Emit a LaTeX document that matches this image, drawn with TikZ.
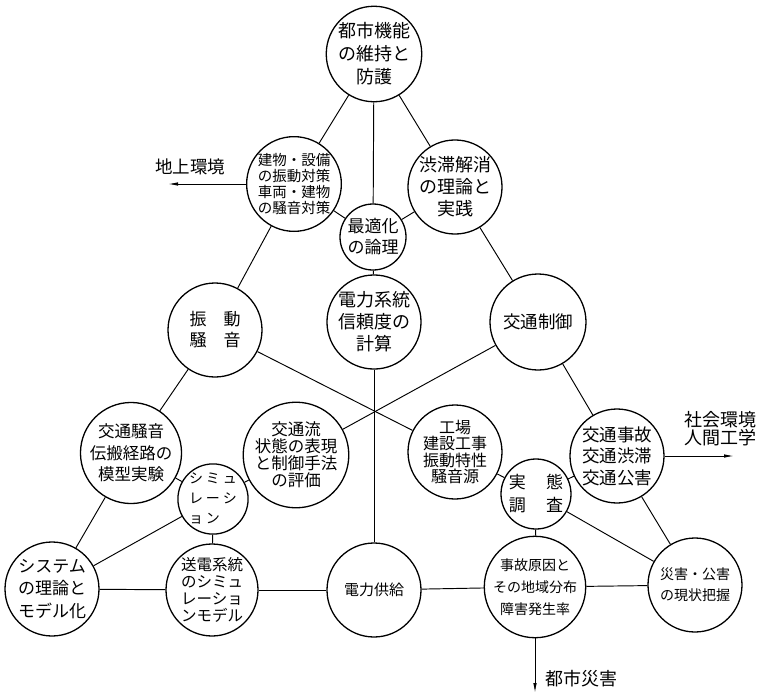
\documentclass[tikz,border=0pt]{standalone}
\usepackage{fontspec}
\newfontfamily\cjk{Noto Sans CJK JP}
\usetikzlibrary{arrows.meta}
\newcommand{\jfs}[2]{\cjk\fontsize{#1}{#2}\selectfont}
\tikzset{
  bub/.style={circle, draw, line width=1.3pt, inner sep=0pt, align=center},
  link/.style={line width=0.95pt},
  outarrow/.style={line width=0.95pt, -{Latex[length=10pt,width=3.5pt]}},
  lbl/.style={inner sep=0pt, align=left}
}
\begin{document}
\begin{tikzpicture}[x=1pt, y=-1pt]
\useasboundingbox (0,0) rectangle (766,694);
% nodes
\node[bub, minimum size=95pt, font={\jfs{18}{23}}] (A) at (374,54) {都市機能\\の維持と\\防護};
\node[bub, minimum size=92pt, font={\jfs{14.5}{16}}] (B) at (294,184) {建物・設備\\の振動対策\\車両・建物\\の騒音対策};
\node[bub, minimum size=66pt, font={\jfs{17}{21}}] (C) at (373,237) {最適化\\の論理};
\node[bub, minimum size=94pt, font={\jfs{18}{22}}] (D) at (455,187) {渋滞解消\\の理論と\\実践};
\node[bub, minimum size=94pt, font={\jfs{17}{21}}] (E) at (215,330) {振\hspace{1em}動\\騒\hspace{1em}音};
\node[bub, minimum size=94pt, font={\jfs{18}{22}}] (F) at (374,322) {電力系統\\信頼度の\\計算};
\node[bub, minimum size=96pt, font={\jfs{17.5}{21}}] (G) at (538,322) {交通制御};
\node[bub, minimum size=92pt, font={\jfs{16.5}{21.5}}] (H) at (131,453) {交通騒音\\伝搬経路の\\模型実験};
\node[bub, minimum size=94pt, font={\jfs{16.5}{17}}] (I) at (296,455) {交通流\\状態の表現\\と制御手法\\の評価};
\node[bub, minimum size=70pt, align=left, font={\jfs{14}{20}}] (J) at (213,499) {シ\hspace{3pt}ミ\hspace{3pt}ュ\\レ\hspace{3pt}ー\hspace{3pt}シ\\ョ\hspace{3pt}ン};
\node[bub, minimum size=94pt, font={\jfs{16}{16.5}}] (K) at (455,452) {工場\\建設工事\\振動特性\\騒音源};
\node[bub, minimum size=70pt, font={\jfs{17}{23}}] (L) at (536,494) {実\hspace{1.2em}態\\調\hspace{1.2em}査};
\node[bub, minimum size=94pt, font={\jfs{17.5}{21.5}}] (M) at (617,456) {交通事故\\交通渋滞\\交通公害};
\node[bub, minimum size=94pt, font={\jfs{17}{22.5}}] (N) at (52,589) {システム\\の理論と\\モデル化};
\node[bub, minimum size=92pt, font={\jfs{15.5}{17}}] (O) at (212,590) {送電系統\\のシミュ\\レーショ\\ンモデル};
\node[bub, minimum size=94pt, font={\jfs{15}{20}}] (P) at (374,590) {電力供給};
\node[bub, minimum size=94pt, font={\jfs{14}{22}}] (Q) at (535,587) {事故原因と\\その地域分布\\障害発生率};
\node[bub, minimum size=94pt, font={\jfs{14}{21}}] (R) at (695,585) {災害・公害\\の現状把握};
% labels
\node[lbl, font={\jfs{17.5}{18}}] (t1) at (190,167) {地上環境};
\node[lbl, font={\jfs{18}{18}}] (t2) at (720,429) {社会環境\\人間工学};
\node[lbl, font={\jfs{18}{18}}] (t3) at (581,679) {都市災害};
\coordinate (e1) at (168,184);
\coordinate (e2) at (734,456);
\coordinate (e3) at (535,693);
% connectors
\draw[link] (A) -- (B);
\draw[link] (A) -- (C);
\draw[link] (A) -- (D);
\draw[link] (B) -- (C);
\draw[link] (D) -- (C);
\draw[link] (B) -- (E);
\draw[link] (C) -- (F);
\draw[link] (D) -- (G);
\draw[link] (E) -- (H);
\draw[link] (E) -- (K);
\draw[link] (G) -- (I);
\draw[link] (F) -- (P);
\draw[link] (G) -- (M);
\draw[link] (H) -- (J);
\draw[link] (I) -- (J);
\draw[link] (H) -- (N);
\draw[link] (J) -- (N);
\draw[link] (J) -- (O);
\draw[link] (K) -- (L);
\draw[link] (L) -- (M);
\draw[link] (L) -- (Q);
\draw[link] (L) -- (R);
\draw[link] (M) -- (R);
\draw[link] (N) -- (O);
\draw[link] (O) -- (P);
\draw[link] (P) -- (Q);
\draw[link] (Q) -- (R);
\draw[outarrow] (B) -- (e1);
\draw[outarrow] (M) -- (e2);
\draw[outarrow] (Q) -- (e3);
\end{tikzpicture}
\end{document}
